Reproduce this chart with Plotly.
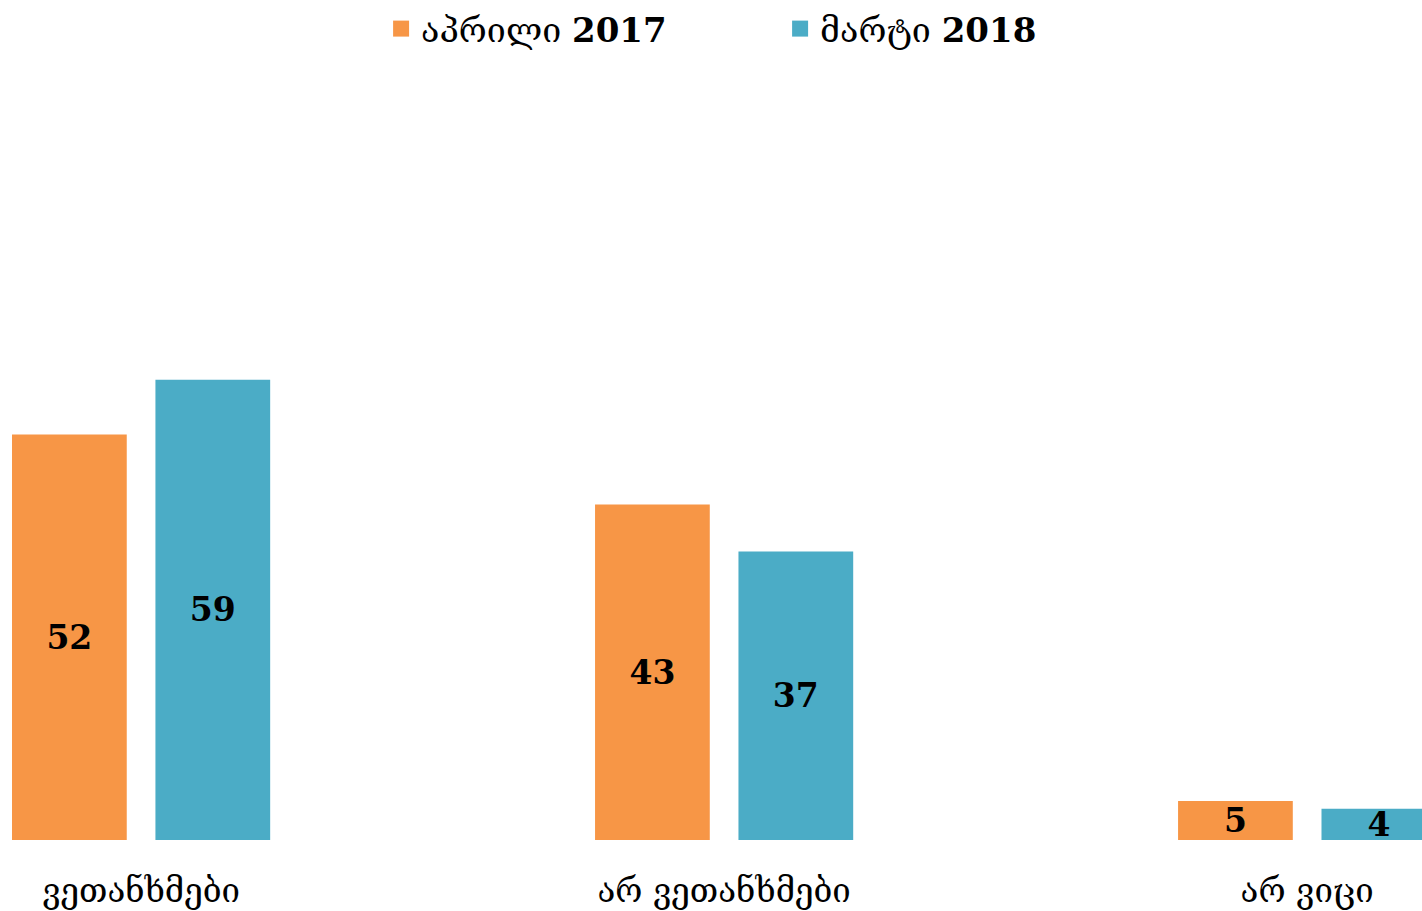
import plotly.graph_objects as go

# data
categories = ["ვეთანხმები", "არ ვეთანხმები", "არ ვიცი"]
series_names = ["აპრილი <b>2017</b>", "მარტი <b>2018</b>"]
april_2017 = [52, 43, 5]
march_2018 = [59, 37, 4]

colors = ["#F79646", "#4BACC6"]
FONT = "DejaVu Serif"

fig = go.Figure()

for name, vals, col in zip(series_names, [april_2017, march_2018], colors):
    fig.add_trace(go.Bar(
        x=categories,
        y=vals,
        marker=dict(color=col, line=dict(width=0)),
        text=vals,
        textposition="inside",
        insidetextanchor="middle",
        constraintext="none",
        textangle=0,
        textfont=dict(family=FONT, size=33, color="black", weight="bold"),
        showlegend=False,
    ))
    # legend entry with a bigger square swatch
    fig.add_trace(go.Scatter(
        x=[None], y=[None],
        mode="markers",
        name=name,
        marker=dict(symbol="square", size=16, color=col),
    ))

fig.update_layout(
    width=1422,
    height=911,
    barmode="group",
    bargap=0.508,
    bargroupgap=0.2,
    plot_bgcolor="white",
    paper_bgcolor="white",
    margin=dict(l=0, r=0, t=60, b=71),
    font=dict(family=FONT, color="black"),
    legend=dict(
        orientation="h",
        x=0.268, xanchor="left",
        y=1.0, yanchor="top",
        yref="container",
        entrywidth=354,
        font=dict(size=34, family=FONT),
        itemwidth=30,
    ),
    xaxis=dict(
        range=[-0.242, 2.197],
        showgrid=False,
        showline=False,
        ticks="",
        tickfont=dict(size=33, family=FONT),
        ticklabelstandoff=28,
    ),
    yaxis=dict(
        range=[0, 100],
        visible=False,
    ),
)

fig.write_html("out.html", config={"displayModeBar": False},
               post_script="document.body.style.margin='0';")
